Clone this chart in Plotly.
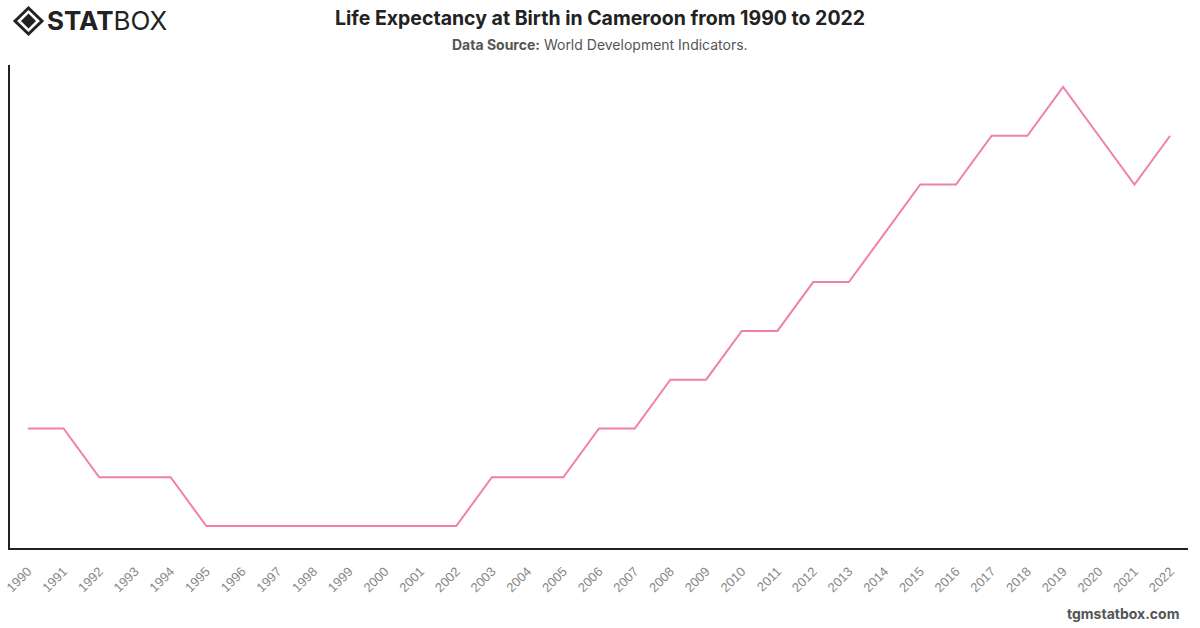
import plotly.graph_objects as go

years = list(range(1990, 2023))
life_expectancy = [53, 53, 52, 52, 52, 51, 51, 51, 51, 51, 51, 51, 51, 52, 52, 52,
                   53, 53, 54, 54, 55, 55, 56, 56, 57, 58, 58, 59, 59, 60, 59, 58, 59]
year_labels = [str(y) for y in years]

W, H = 1200, 628
L, R, T, B = 10, 12, 65, 80
pw, ph = W - L - R, H - T - B

def px(x):
    return (x - L) / pw

def py(y):
    return (H - B - y) / ph

fig = go.Figure()
fig.add_trace(go.Scatter(
    x=year_labels, y=life_expectancy, mode="lines",
    line=dict(color="#f07fb0", width=2), hoverinfo="x+y",
))

ymin, ymax = min(life_expectancy), max(life_expectancy)
fig.update_layout(
    width=W, height=H,
    margin=dict(l=L, r=R, t=T, b=B, autoexpand=False),
    paper_bgcolor="white", plot_bgcolor="white",
    showlegend=False,
    font=dict(family="Inter, Roboto, sans-serif"),
    xaxis=dict(
        type="category", range=[-0.5, len(years) - 0.5], automargin=False,
        showgrid=False, showline=True, linecolor="#222", linewidth=1.5,
        ticks="outside", ticklen=9, tickcolor="rgba(0,0,0,0)", tickangle=-45,
        tickfont=dict(size=13, color="#888", family="Liberation Sans, Arial, sans-serif"),
        zeroline=False,
    ),
    yaxis=dict(
        range=[ymin - 0.45, ymax + 0.45], showgrid=False, showline=True, automargin=False,
        linecolor="#222", linewidth=1.5, showticklabels=False, ticks="",
        zeroline=False,
    ),
    annotations=[
        dict(text="<b>Life Expectancy at Birth in Cameroon from 1990 to 2022</b>",
             x=px(600), y=py(18), xref="paper", yref="paper", showarrow=False,
             xanchor="center", yanchor="middle", font=dict(size=19.5, color="#222")),
        dict(text="<b>Data Source:</b> World Development Indicators.",
             x=px(600), y=py(44), xref="paper", yref="paper", showarrow=False,
             xanchor="center", yanchor="middle", font=dict(size=14, color="#555")),
        dict(text="<b>tgmstatbox.com</b>",
             x=px(1181), y=py(613), xref="paper", yref="paper", showarrow=False,
             xanchor="right", yanchor="middle", font=dict(size=14, color="#555")),
        dict(text="<b>STAT</b>BOX",
             x=px(45), y=py(21), xref="paper", yref="paper", showarrow=False,
             xanchor="left", yanchor="middle",
             font=dict(size=26, color="#222", family="Inter, sans-serif")),
    ],
    shapes=[
        dict(type="path", xref="paper", yref="paper",
             path=f"M {px(15)},{py(21)} L {px(28.5)},{py(8)} L {px(42)},{py(21)} L {px(28.5)},{py(34)} Z",
             line=dict(color="#222", width=3), fillcolor="rgba(0,0,0,0)"),
        dict(type="path", xref="paper", yref="paper",
             path=f"M {px(21)},{py(21)} L {px(28.5)},{py(13.5)} L {px(36)},{py(21)} L {px(28.5)},{py(28.5)} Z",
             line=dict(color="#222", width=0), fillcolor="#222"),
    ],
)

fig.write_html("out.html")
